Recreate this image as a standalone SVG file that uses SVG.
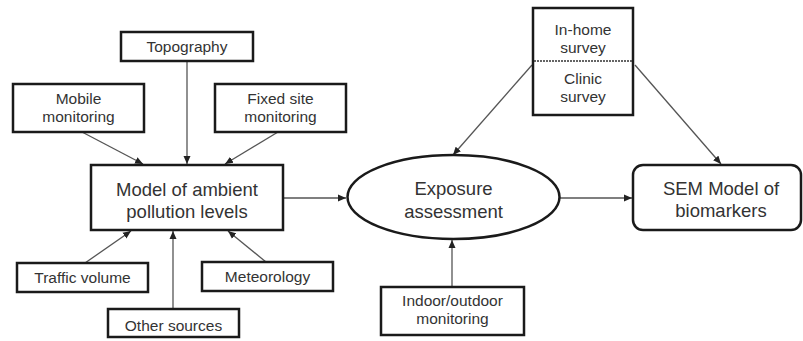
<svg xmlns="http://www.w3.org/2000/svg" width="803" height="341" viewBox="0 0 803 341">
<style>
.box{fill:#fff;stroke:#1a1a1a;stroke-width:2.5}
.t{font-family:"Liberation Sans",Arial,sans-serif;fill:#333;text-anchor:middle}
.s{font-size:15.5px}
.l{font-size:18.5px}
.c{stroke:#555;stroke-width:1.3;fill:none;marker-end:url(#ah)}
</style>
<defs>
<marker id="ah" markerUnits="userSpaceOnUse" markerWidth="9" markerHeight="8" refX="8" refY="4" orient="auto">
<path d="M0,0.5 L8,4 L0,7.5 Z" fill="#222"/>
</marker>
</defs>
<rect width="803" height="341" fill="#fff"/>
<g id="connectors">
<line class="c" x1="187" y1="61" x2="187" y2="164"/>
<line class="c" x1="82" y1="132" x2="143" y2="164"/>
<line class="c" x1="278" y1="132" x2="225" y2="164"/>
<line class="c" x1="85" y1="263" x2="131" y2="231"/>
<line class="c" x1="173" y1="309" x2="173" y2="231"/>
<line class="c" x1="266" y1="262" x2="228" y2="231"/>
<line class="c" x1="283" y1="198" x2="346" y2="198"/>
<line class="c" x1="532" y1="65" x2="453" y2="155"/>
<line class="c" x1="635" y1="65" x2="721" y2="164"/>
<line class="c" x1="560" y1="198" x2="632" y2="198"/>
<line class="c" x1="452" y1="287" x2="452" y2="240"/>
</g>
<g id="topography">
<rect class="box" x="121" y="32" width="132" height="29"/>
<text class="t s" x="187" y="52">Topography</text>
</g>
<g id="mobile">
<rect class="box" x="13" y="84" width="131" height="48"/>
<text class="t s" x="78.5" y="104">Mobile</text>
<text class="t s" x="78.5" y="122">monitoring</text>
</g>
<g id="fixed">
<rect class="box" x="215" y="84" width="131" height="48"/>
<text class="t s" x="280.5" y="104">Fixed site</text>
<text class="t s" x="280.5" y="122">monitoring</text>
</g>
<g id="model">
<rect class="box" x="91" y="165" width="192" height="65"/>
<text class="t l" x="187" y="196">Model of ambient</text>
<text class="t l" x="187" y="218">pollution levels</text>
</g>
<g id="traffic">
<rect class="box" x="17" y="263" width="131" height="29"/>
<text class="t s" x="82.5" y="283">Traffic volume</text>
</g>
<g id="meteorology">
<rect class="box" x="202" y="262" width="131" height="29"/>
<text class="t s" x="267.5" y="282">Meteorology</text>
</g>
<g id="other">
<rect class="box" x="108" y="309" width="131" height="28"/>
<text class="t s" x="173.5" y="331">Other sources</text>
</g>
<g id="exposure">
<ellipse class="box" cx="453.5" cy="197" rx="106" ry="42"/>
<text class="t l" x="453.5" y="195">Exposure</text>
<text class="t l" x="453.5" y="218">assessment</text>
</g>
<g id="survey">
<rect class="box" x="533" y="8" width="100" height="107"/>
<line x1="534" y1="61" x2="632" y2="61" stroke="#333" stroke-width="1.5" stroke-dasharray="2,1"/>
<text class="t s" x="583" y="35">In-home</text>
<text class="t s" x="583" y="53">survey</text>
<text class="t s" x="583" y="84">Clinic</text>
<text class="t s" x="583" y="102">survey</text>
</g>
<g id="sem">
<rect class="box" x="633" y="165" width="168" height="65" rx="10"/>
<text class="t l" x="721" y="195">SEM Model of</text>
<text class="t l" x="721" y="217">biomarkers</text>
</g>
<g id="indoor">
<rect class="box" x="381" y="287" width="143" height="48"/>
<text class="t s" x="452.5" y="306">Indoor/outdoor</text>
<text class="t s" x="452.5" y="324">monitoring</text>
</g>
</svg>
